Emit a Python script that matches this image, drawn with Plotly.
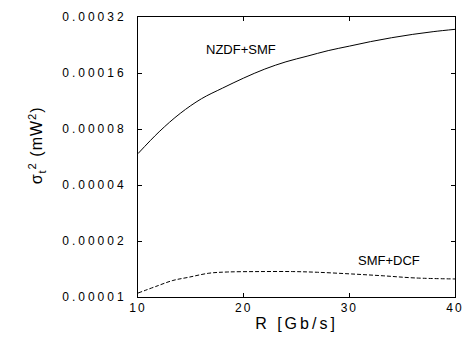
import math
import plotly.graph_objects as go

# NZDF+SMF (solid)
r_nzdf = [10, 12, 14, 16, 18, 20, 22, 24, 26, 28, 30, 32, 34, 36, 38, 40]
s_nzdf = [5.90e-5, 7.73e-5, 9.71e-5, 1.163e-4, 1.327e-4, 1.503e-4, 1.680e-4, 1.838e-4,
          1.970e-4, 2.111e-4, 2.231e-4, 2.359e-4, 2.476e-4, 2.581e-4, 2.672e-4, 2.747e-4]

# SMF+DCF (dashed)
r_dcf = [10, 11.7, 13.3, 14.8, 16.7, 18.5, 21.5, 24.6, 27.0, 30.2, 33.2, 36.2, 40]
s_dcf = [1.05e-5, 1.14e-5, 1.227e-5, 1.277e-5, 1.342e-5, 1.363e-5, 1.37e-5, 1.37e-5,
         1.358e-5, 1.33e-5, 1.30e-5, 1.266e-5, 1.25e-5]

y_ticks = [1e-5, 2e-5, 4e-5, 8e-5, 1.6e-4, 3.2e-4]
y_ticklabels = ["0.00001", "0.00002", "0.00004", "0.00008", "0.00016", "0.00032"]
x_ticks = [10, 20, 30, 40]
x_ticklabels = ["10", "20", "30", "40"]

FONT = "Liberation Sans, Arial, sans-serif"

def spaced(t, sp=3):
    return '<span style="letter-spacing:%spx">%s</span>' % (sp, t)

fig = go.Figure()
fig.add_trace(go.Scatter(x=r_nzdf, y=s_nzdf, mode="lines", line=dict(color="black", width=1), line_shape="spline"))
fig.add_trace(go.Scatter(x=r_dcf, y=s_dcf, mode="lines", line=dict(color="black", width=1, dash="4px,2px"), line_shape="spline"))

fig.add_annotation(x=19.7, y=math.log10(2.14e-4), text="NZDF+SMF", showarrow=False,
                   font=dict(family=FONT, size=13, color="black"))
fig.add_annotation(x=33.8, y=math.log10(1.565e-5), text="SMF+DCF", showarrow=False,
                   font=dict(family=FONT, size=13, color="black"))
# y-axis title
fig.add_annotation(xref="paper", yref="paper", x=-0.32, y=0.54, xanchor="center", yanchor="middle",
                   textangle=-90, showarrow=False,
                   text=spaced("σ<sub>t</sub><sup>2</sup> (mW<sup>2</sup>)", 1),
                   font=dict(family=FONT, size=16, color="black"))

fig.update_layout(
    width=472, height=338,
    margin=dict(l=137.5, r=8.5, t=17, b=38),
    paper_bgcolor="white", plot_bgcolor="white",
    showlegend=False,
    font=dict(family=FONT, color="black"),
)
fig.update_xaxes(
    range=[10, 40], tickvals=x_ticks, ticktext=[spaced(t, 2) for t in x_ticklabels],
    ticks="inside", ticklen=4, tickcolor="black", showline=True, linecolor="black", linewidth=1,
    mirror="ticks", showgrid=False, zeroline=False,
    tickfont=dict(family=FONT, size=12, color="black"),
    title=dict(text=spaced("R [Gb/s]", 3), font=dict(family=FONT, size=16, color="black"), standoff=3),
)
fig.update_yaxes(
    type="log", range=[-5, math.log10(3.2e-4)], tickvals=y_ticks, ticktext=[spaced(t, 3) for t in y_ticklabels],
    ticks="inside", ticklen=4, tickcolor="black", showline=True, linecolor="black", linewidth=1,
    mirror="ticks", showgrid=False, zeroline=False,
    tickfont=dict(family=FONT, size=12, color="black"),
    ticklabelstandoff=8,
)

fig.write_html("out.html")
